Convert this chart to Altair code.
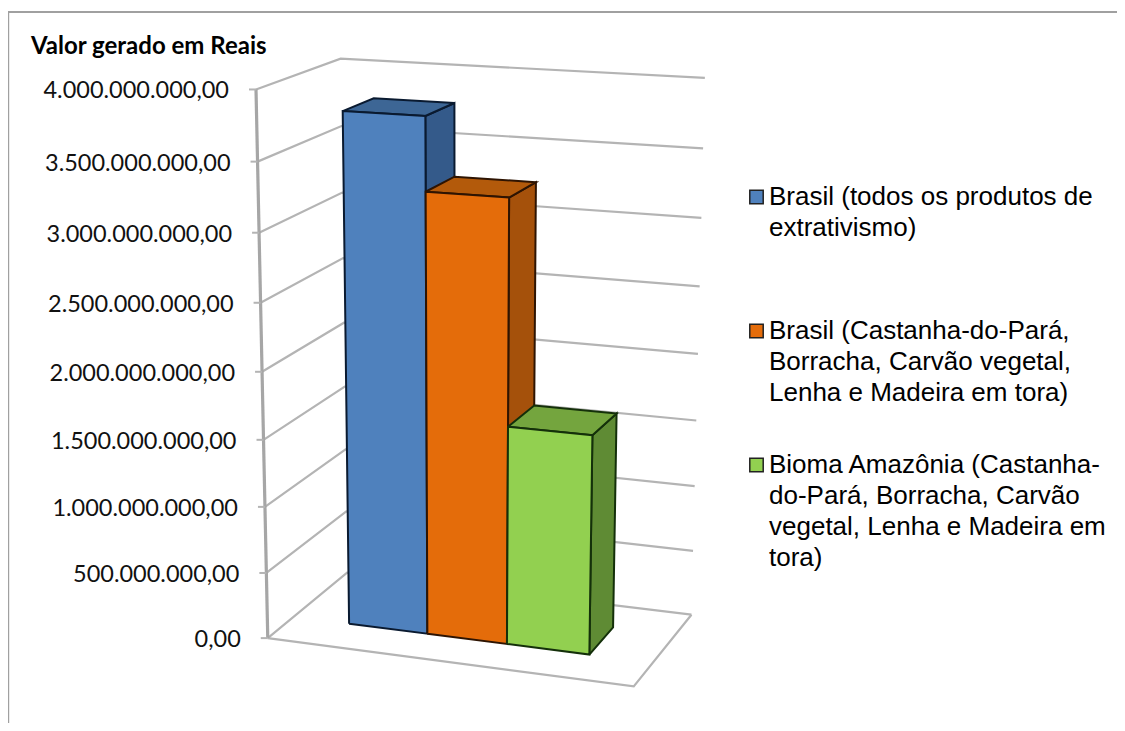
import numpy as np
import pandas as pd
import altair as alt

W, H = 1109, 715
OX, OY = 8, 8

values = [3.80e9, 3.27e9, 1.63e9]
ticks = [0, 5e8, 1e9, 1.5e9, 2e9, 2.5e9, 3e9, 3.5e9, 4e9]
tick_labels = ["0,00", "500.000.000,00", "1.000.000.000,00", "1.500.000.000,00", "2.000.000.000,00",
               "2.500.000.000,00", "3.000.000.000,00", "3.500.000.000,00", "4.000.000.000,00"]
leg_lines = [["Brasil (todos os produtos de", "extrativismo)"],
             ["Brasil (Castanha-do-Pará,", "Borracha, Carvão vegetal,", "Lenha e Madeira em tora)"],
             ["Bioma Amazônia (Castanha-", "do-Pará, Borracha, Carvão", "vegetal, Lenha e Madeira em", "tora)"]]
title_text = "Valor gerado em Reais"
VMAX = 4e9

# camera calibration of the 3D box: (u, v, d) -> page px
cal = [((0,0,0),(268,638)),((1,0,0),(633,687)),((1,0,1),(692,614)),((0,0,1),(347,573)),
       ((0,1,0),(256.5,89)),((0,1,1),(340,59)),((1,1,1),(705,78))]
A=[];b=[]
for (u,v,d),(x,y) in cal:
    A.append([u,v,d,1,0,0,0,0,-x*u,-x*v,-x*d]);b.append(x)
    A.append([0,0,0,0,u,v,d,1,-y*u,-y*v,-y*d]);b.append(y)
P=np.linalg.lstsq(np.array(A,float),np.array(b,float),rcond=None)[0]
M=np.append(P,1).reshape(3,4)
def proj(u,v,d):
    h=M@np.array([u,v,d,1.0]);return float(h[0]/h[2]),float(h[1]/h[2])

U=[0.16,0.383,0.605,0.83]
D0,D1=0.315,0.70
xs=alt.X("x:Q",scale=alt.Scale(domain=[OX,OX+W],range=[0,W]),axis=None)
ys=alt.Y("y:Q",scale=alt.Scale(domain=[OY,OY+H],range=[0,H]),axis=None)

def path(pts,**kw):
    df=pd.DataFrame({"x":[p[0] for p in pts],"y":[p[1] for p in pts],"i":range(len(pts))})
    return alt.Chart(df).mark_line(**kw).encode(x=xs,y=ys,order="i:Q")

layers=[]
GR="#b4b4b4"
layers.append(path([(8.2,723),(8.2,12),(1117,12)],stroke="#a0a0a0",strokeWidth=2))
for t in ticks:
    v=t/VMAX
    layers.append(path([proj(0,v,0),proj(0,v,1),proj(1,v,1)],stroke=GR,strokeWidth=2.2))
layers.append(path([proj(0,0,0),proj(1,0,0),proj(1,0,1)],stroke=GR,strokeWidth=2.2))
layers.append(path([proj(0,0,0),proj(0,1,0)],stroke="#a6a6a6",strokeWidth=3.2))
for t in ticks:
    x,y=proj(0,t/VMAX,0)
    layers.append(path([(x-7,y),(x,y)],stroke=GR,strokeWidth=2))

front=["#4f81bd","#e46c0a","#92d050"]
side=["#345a8a","#a5510b","#5f8b34"]
top=["#3d6695","#b35a0b","#74a53e"]
edge=["#0a1a30","#2e1402","#14300a"]
SW=2
for i,val in enumerate(values):
    v=val/VMAX;a,b_=U[i],U[i+1]
    layers.append(path([proj(b_,0,D0),proj(b_,0,D1),proj(b_,v,D1),proj(b_,v,D0),proj(b_,0,D0)],fill=side[i],stroke=edge[i],strokeWidth=SW))
    layers.append(path([proj(a,v,D0),proj(b_,v,D0),proj(b_,v,D1),proj(a,v,D1),proj(a,v,D0)],fill=top[i],stroke=edge[i],strokeWidth=SW))
    layers.append(path([proj(a,0,D0),proj(b_,0,D0),proj(b_,v,D0),proj(a,v,D0),proj(a,0,D0)],fill=front[i],stroke=edge[i],strokeWidth=SW))

lab=pd.DataFrame({"x":[proj(0,t/VMAX,0)[0]-27 for t in ticks],"y":[proj(0,t/VMAX,0)[1]+2 for t in ticks],"t":tick_labels})
layers.append(alt.Chart(lab).mark_text(align="right",baseline="middle",font="Lato",fontSize=23.5,color="#111111").encode(x=xs,y=ys,text="t:N"))
layers.append(alt.Chart(pd.DataFrame({"x":[31],"y":[47],"t":[title_text]})).mark_text(align="left",baseline="middle",font="Lato",fontWeight="bold",fontSize=24,color="#000000").encode(x=xs,y=ys,text="t:N"))

leg_y=[197,331,465]
rows=[]
for ly,ls in zip(leg_y,leg_lines):
    for j,s in enumerate(ls):
        rows.append({"x":769,"y":ly+j*31,"t":s})
layers.append(alt.Chart(pd.DataFrame(rows)).mark_text(align="left",baseline="middle",font="Liberation Sans",fontSize=26,color="#000000").encode(x=xs,y=ys,text="t:N"))
for ly,c in zip(leg_y,front):
    layers.append(alt.Chart(pd.DataFrame({"x":[756.5],"y":[ly]})).mark_point(shape="square",size=180,filled=True,fill=c,stroke="#222222",strokeWidth=1.5,opacity=1).encode(x=xs,y=ys))

chart=alt.layer(*layers).properties(width=W,height=H,padding=0,autosize="none",background="white").configure_view(stroke=None)
chart.save("out.html",embed_options={"renderer":"svg","actions":False})
